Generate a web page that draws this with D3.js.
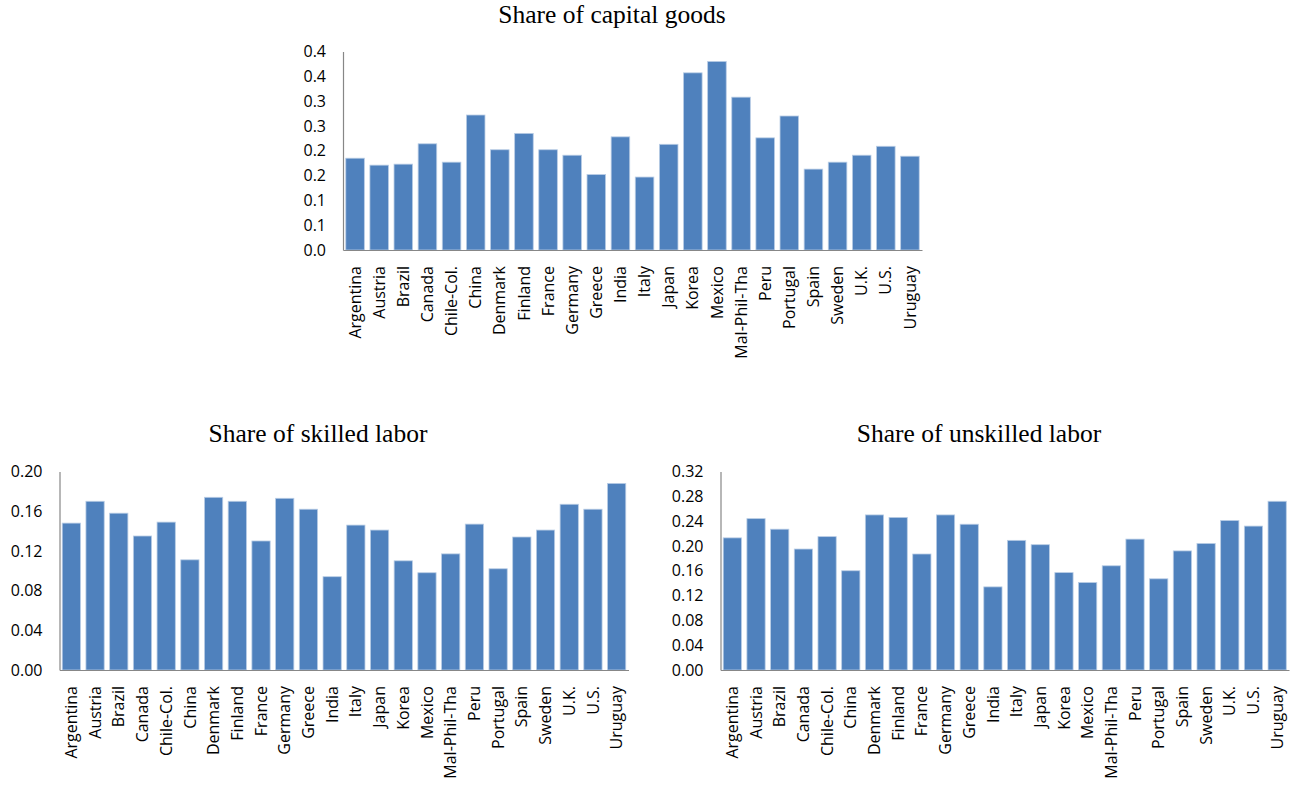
<!DOCTYPE html>
<html>
<head>
<meta charset="utf-8">
<script src="https://cdn.jsdelivr.net/npm/d3@7"></script>
<style>
  html, body { margin: 0; padding: 0; background: #fff; }
  svg { display: block; }
  .tick-label { font-family: "Open Sans", sans-serif; font-size: 16px; fill: #000; }
  .title { font-family: "Liberation Serif", "Times New Roman", serif; font-size: 25.5px; fill: #000; }
</style>
</head>
<body>
<svg id="chart" width="1298" height="786"></svg>
<script>
// Country groups shared by all three panels
const countries = ["Argentina", "Austria", "Brazil", "Canada", "Chile-Col.", "China", "Denmark",
  "Finland", "France", "Germany", "Greece", "India", "Italy", "Japan", "Korea", "Mexico",
  "Mal-Phil-Tha", "Peru", "Portugal", "Spain", "Sweden", "U.K.", "U.S.", "Uruguay"];

// Share of capital goods
const capitalGoods = [0.185, 0.171, 0.173, 0.214, 0.177, 0.272, 0.202, 0.235, 0.202, 0.191, 0.152,
  0.228, 0.147, 0.213, 0.357, 0.380, 0.308, 0.226, 0.270, 0.163, 0.177, 0.191, 0.209, 0.189];
const capitalTicks = [0, 0.05, 0.10, 0.15, 0.20, 0.25, 0.30, 0.35, 0.40];
const capitalTickLabels = ["0.0", "0.1", "0.1", "0.2", "0.2", "0.3", "0.3", "0.4", "0.4"];

// Share of skilled labor
const skilledLabor = [0.148, 0.170, 0.158, 0.135, 0.149, 0.111, 0.174, 0.170, 0.130, 0.173, 0.162,
  0.094, 0.146, 0.141, 0.110, 0.098, 0.117, 0.147, 0.102, 0.134, 0.141, 0.167, 0.162, 0.188];
const skilledTicks = [0, 0.04, 0.08, 0.12, 0.16, 0.20];
const skilledTickLabels = ["0.00", "0.04", "0.08", "0.12", "0.16", "0.20"];

// Share of unskilled labor
const unskilledLabor = [0.213, 0.244, 0.227, 0.195, 0.215, 0.160, 0.250, 0.246, 0.187, 0.250, 0.235,
  0.134, 0.209, 0.202, 0.157, 0.141, 0.168, 0.211, 0.147, 0.192, 0.204, 0.241, 0.232, 0.272];
const unskilledTicks = [0, 0.04, 0.08, 0.12, 0.16, 0.20, 0.24, 0.28, 0.32];
const unskilledTickLabels = ["0.00", "0.04", "0.08", "0.12", "0.16", "0.20", "0.24", "0.28", "0.32"];

const panels = [
  { title: "Share of capital goods", values: capitalGoods, ticks: capitalTicks, labels: capitalTickLabels,
    x0: 343, x1: 922, yTop: 51.5, yBase: 250, titleX: 612, titleY: 23 },
  { title: "Share of skilled labor", values: skilledLabor, ticks: skilledTicks, labels: skilledTickLabels,
    x0: 59.5, x1: 628.5, yTop: 471.5, yBase: 670, titleX: 318, titleY: 442 },
  { title: "Share of unskilled labor", values: unskilledLabor, ticks: unskilledTicks, labels: unskilledTickLabels,
    x0: 720.5, x1: 1289, yTop: 471.5, yBase: 670, titleX: 979, titleY: 442 }
];

const svg = d3.select("#chart");
const barColor = "#4F81BD";
const axisColor = "#878787";

panels.forEach(p => {
  const g = svg.append("g");
  const x = d3.scaleBand().domain(countries).range([p.x0, p.x1]).paddingInner(0.23).paddingOuter(0.115);
  const yMax = p.ticks[p.ticks.length - 1];
  const y = d3.scaleLinear().domain([0, yMax]).range([p.yBase, p.yTop]);

  // bars
  g.selectAll("rect.bar")
    .data(countries.map((c, i) => ({ c, v: p.values[i] })))
    .join("rect")
    .attr("class", "bar")
    .attr("x", d => x(d.c))
    .attr("width", x.bandwidth())
    .attr("y", d => y(d.v))
    .attr("height", d => y(0) - y(d.v))
    .attr("fill", barColor)
    .attr("stroke", "#b9cde5")
    .attr("stroke-width", 0.8);

  // value axis
  const yAxis = d3.axisLeft(y).tickValues(p.ticks).tickSize(0).tickPadding(17)
    .tickFormat((d, i) => p.labels[i]);
  const ya = g.append("g").attr("transform", `translate(${p.x0},0)`).call(yAxis);
  ya.select(".domain").attr("stroke", axisColor).attr("stroke-width", 1.2);
  ya.selectAll("text").attr("class", "tick-label").attr("font-family", null).attr("font-size", null);

  // category axis
  const xAxis = d3.axisBottom(x).tickSize(0).tickPadding(0);
  const xa = g.append("g").attr("transform", `translate(0,${p.yBase})`).call(xAxis);
  xa.select(".domain").attr("stroke", axisColor).attr("stroke-width", 1.2);
  xa.selectAll("text")
    .attr("class", "tick-label").attr("font-family", null).attr("font-size", null)
    .attr("transform", "rotate(-90)")
    .attr("x", -16).attr("y", 0).attr("dy", "0.35em")
    .style("text-anchor", "end");

  // title
  g.append("text").attr("class", "title")
    .attr("x", p.titleX).attr("y", p.titleY)
    .attr("text-anchor", "middle")
    .text(p.title);
});
</script>
</body>
</html>
